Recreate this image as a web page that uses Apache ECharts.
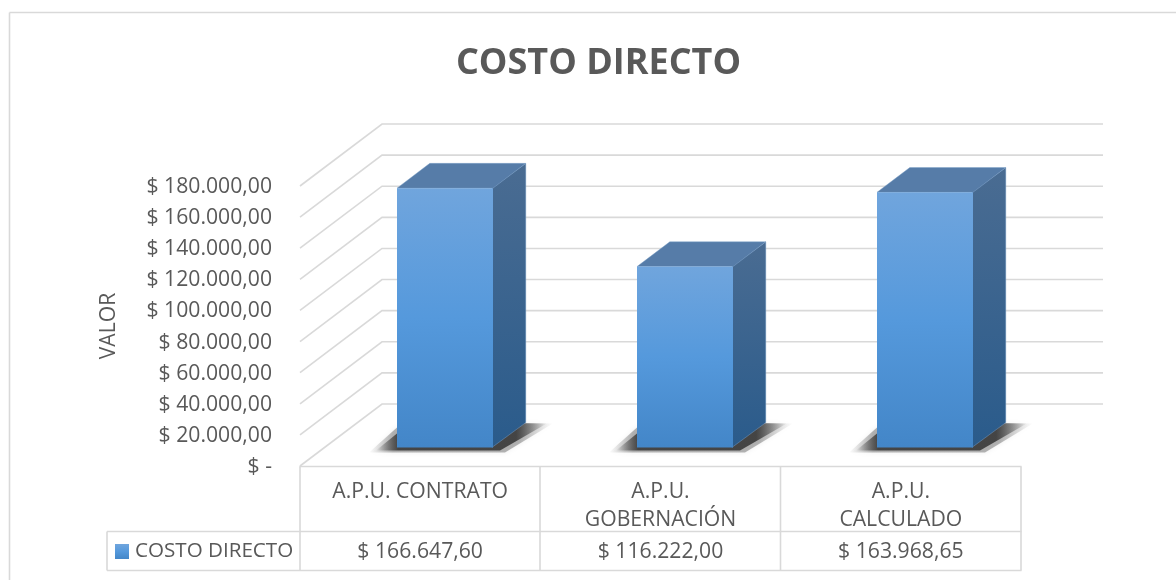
<!DOCTYPE html>
<html>
<head>
<meta charset="utf-8">
<style>html,body{margin:0;padding:0;background:#fff}#c{width:1176px;height:580px}</style>
<script src="https://cdn.jsdelivr.net/npm/echarts@6/dist/echarts.min.js"></script>
</head>
<body>
<div id="c"></div>
<script>
const chartTitle = 'COSTO DIRECTO';
const seriesName = 'COSTO DIRECTO';
const yAxisName = 'VALOR';
const categories = ['A.P.U. CONTRATO', 'A.P.U.\nGOBERNACIÓN', 'A.P.U.\nCALCULADO'];
const costoDirecto = [166647.60, 116222.00, 163968.65];
const valueLabels = ['$ 166.647,60', '$ 116.222,00', '$ 163.968,65'];
const yTicks = [0, 20000, 40000, 60000, 80000, 100000, 120000, 140000, 160000, 180000];
const yTickLabels = ['$ -', '$ 20.000,00', '$ 40.000,00', '$ 60.000,00', '$ 80.000,00', '$ 100.000,00', '$ 120.000,00', '$ 140.000,00', '$ 160.000,00', '$ 180.000,00'];

const FONT = '"Open Sans"';
const FS = 21.2;
const TXT = '#595959';
const LINE = '#d9d9d9';
const DX = 82, DY = -62;          // depth of the 3D floor, px
const FRONT = 0.3, THICK = 0.4;   // bar position within the depth
const BAR_W = 96;

const frontFill = () => new echarts.graphic.LinearGradient(0, 0, 0, 1, [
  {offset: 0, color: '#70a5dd'}, {offset: 0.5, color: '#5599dc'}, {offset: 1, color: '#4386c8'}
]);
const grad = (a, b) => new echarts.graphic.LinearGradient(0, 0, 0, 1, [{offset: 0, color: a}, {offset: 1, color: b}]);
const poly = (points, style, z2) => ({type: 'polygon', shape: {points}, style, z2: z2 || 0});
const hline = (x1, y1, x2, y2) => ({type: 'line', silent: true, shape: {x1, y1, x2, y2}, style: {stroke: LINE, lineWidth: 1.6}, z: 0});

function renderGrid(params, api) {
  const cs = params.coordSys;
  const y = api.coord([0, api.value(1)])[1];
  const x0 = cs.x, x1 = cs.x + cs.width;
  return {
    type: 'polyline',
    shape: {points: [[x0, y], [x0 + DX, y + DY], [x1 + DX, y + DY]]},
    style: {stroke: LINE, lineWidth: 1.6, fill: null}
  };
}

function renderBar(params, api) {
  const idx = params.dataIndex;
  const base = api.coord([idx, 0]);
  const top = api.coord([idx, api.value(1)]);
  const cs = params.coordSys;
  const ox = DX * FRONT, oy = DY * FRONT;
  const ddx = DX * THICK, ddy = DY * THICK;
  const l = Math.round(base[0] - BAR_W / 2 + ox), r = l + BAR_W;
  const yb = base[1] + oy, yt = top[1] + oy;
  const shade = (a) => new echarts.graphic.LinearGradient(0, 0, 1, 0, [
    {offset: 0, color: 'rgba(50,50,50,0)'},
    {offset: 0.13, color: 'rgba(50,50,50,' + a + ')'},
    {offset: 0.82, color: 'rgba(50,50,50,' + a + ')'},
    {offset: 1, color: 'rgba(50,50,50,0)'}
  ]);
  const edge = 'rgba(125,160,200,0.55)';
  return {
    type: 'group',
    children: [
      poly([[l - 28, yb + 5], [l, yb - 20], [l + ddx, yb + ddy - 1], [r + ddx + 27, yb + ddy + 1], [r + 12, yb + 5]],
        {fill: shade(0.35), shadowBlur: 5, shadowColor: 'rgba(60,60,60,0.25)'}, 1),
      poly([[l - 21, yb + 3], [l, yb - 14], [l + ddx, yb + ddy], [r + ddx + 21, yb + ddy + 1], [r + 7, yb + 3]],
        {fill: shade(0.85)}, 2),
      poly([[r - 1, yt], [r + ddx, yt + ddy], [r + ddx, yb + ddy], [r - 1, yb]],
        {fill: grad('#4a6c92', '#2a5b8b'), stroke: edge, lineWidth: 0.8}, 3),
      poly([[l, yt], [l + ddx, yt + ddy], [r + ddx, yt + ddy], [r, yt]],
        {fill: '#567ca8', stroke: edge, lineWidth: 0.8}, 4),
      poly([[l, yt], [r, yt], [r, yb], [l, yb]], {fill: frontFill()}, 5),
      {type: 'text', z2: 6, style: {
        text: valueLabels[idx], x: base[0], y: cs.y + cs.height + 86,
        align: 'center', verticalAlign: 'middle', fill: TXT, font: '400 ' + FS + 'px ' + FONT
      }}
    ]
  };
}

const chart = echarts.init(document.getElementById('c'), null, {renderer: 'canvas'});
chart.setOption({
  animation: false,
  backgroundColor: '#ffffff',
  title: {
    text: chartTitle, left: 593.5, top: 59, textAlign: 'center', textVerticalAlign: 'middle',
    textStyle: {fontFamily: FONT, fontWeight: 700, fontSize: 36, color: TXT}
  },
  legend: {
    data: [seriesName], left: 115, top: 541, padding: 0, itemWidth: 14, itemHeight: 15, itemGap: 0,
    icon: 'rect', selectedMode: false,
    textStyle: {fontFamily: FONT, fontSize: 20.6, color: TXT, padding: [0, 0, 0, 1]}
  },
  grid: {left: 300, right: 155, top: 186, bottom: 114},
  xAxis: {
    type: 'category', data: categories,
    axisLine: {show: false}, axisTick: {show: false}, splitLine: {show: false},
    axisLabel: {margin: 12, fontFamily: FONT, fontSize: FS, color: TXT, lineHeight: 28, interval: 0}
  },
  yAxis: {
    type: 'value', min: 0, max: 180000, interval: 20000,
    name: yAxisName, nameLocation: 'middle', nameGap: 181, nameRotate: 90,
    nameTextStyle: {fontFamily: FONT, fontSize: FS, color: TXT},
    axisLine: {show: false}, axisTick: {show: false}, splitLine: {show: false},
    axisLabel: {
      margin: 28, fontFamily: FONT, fontSize: FS, color: TXT,
      verticalAlign: 'top', lineHeight: 2,
      formatter: v => yTickLabels[yTicks.indexOf(v)]
    }
  },
  series: [
    {
      type: 'custom', name: 'grid', coordinateSystem: 'cartesian2d', silent: true, clip: false, z: 1,
      data: yTicks.map(v => [0, v]), encode: {x: 0, y: 1}, renderItem: renderGrid
    },
    {
      type: 'custom', name: seriesName, coordinateSystem: 'cartesian2d', clip: false, z: 3,
      itemStyle: {color: frontFill()},
      data: costoDirecto.map((v, i) => [i, v]), encode: {x: 0, y: 1}, renderItem: renderBar
    }
  ],
  graphic: {elements: [
    hline(9.5, 12.5, 1176, 12.5),
    hline(9.5, 12.5, 9.5, 580),
    hline(299.5, 466.5, 1021.5, 466.5),
    hline(107, 531.5, 1021.5, 531.5),
    hline(107, 570.5, 1021.5, 570.5),
    hline(107, 531.5, 107, 570.5),
    hline(300, 466.5, 300, 570.5),
    hline(540, 466.5, 540, 570.5),
    hline(780.5, 466.5, 780.5, 570.5),
    hline(1021, 466.5, 1021, 570.5)
  ]}
});
</script>
</body>
</html>
